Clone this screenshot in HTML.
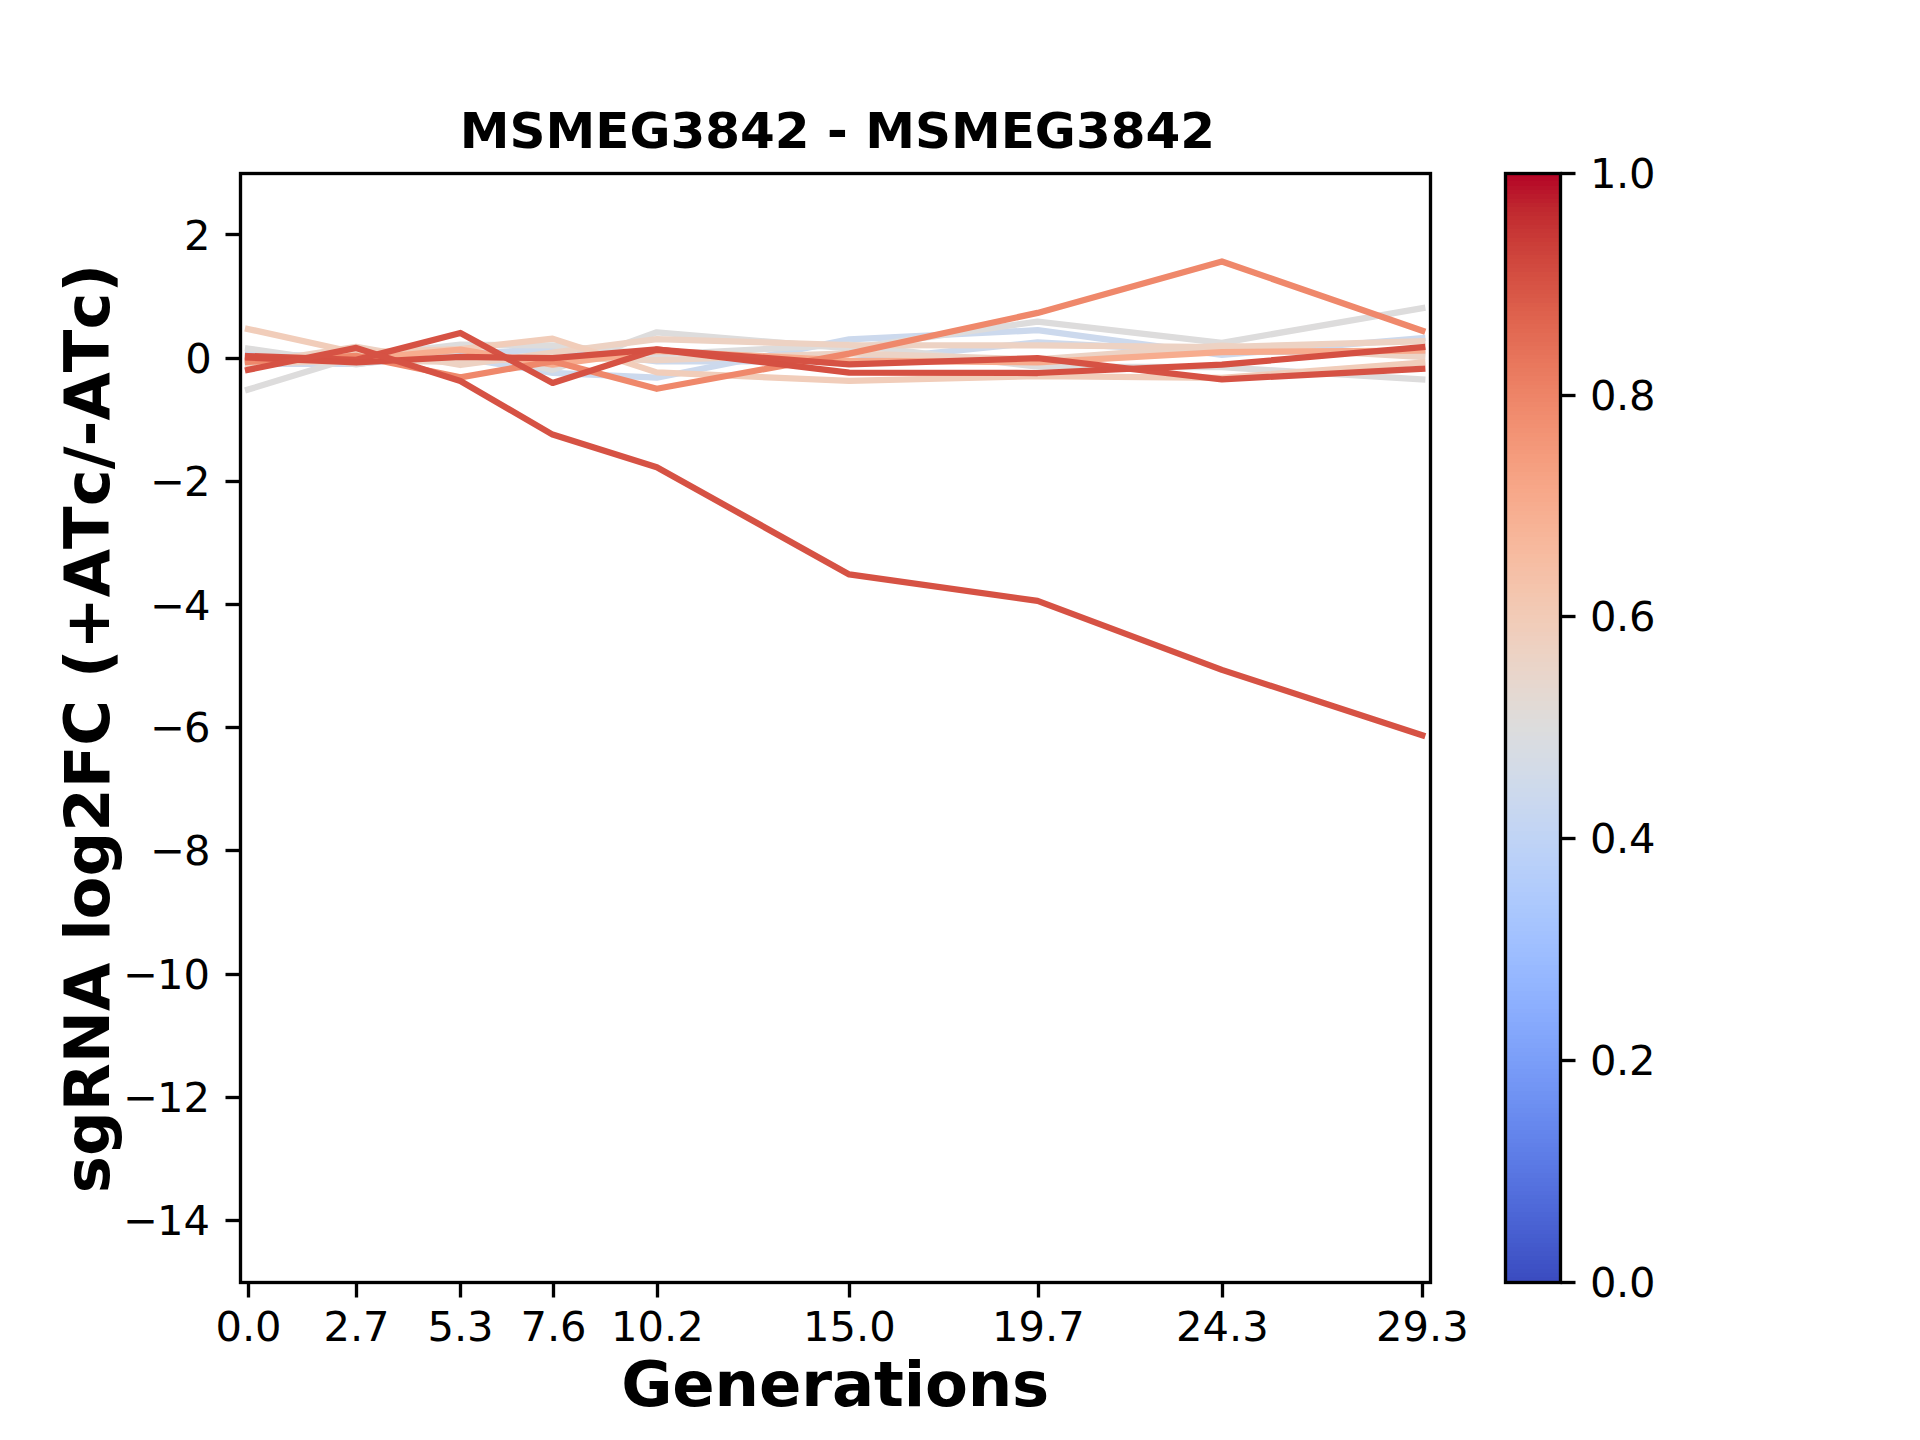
<!DOCTYPE html>
<html lang="en"><head><meta charset="utf-8"><title>MSMEG3842 - MSMEG3842</title>
<style>html,body{margin:0;padding:0;background:#fff}svg{display:block}text{font-family:"DejaVu Sans","Liberation Sans",sans-serif;fill:#000;font-kerning:none}.b{font-weight:bold}</style></head><body>
<svg width="1920" height="1440" viewBox="0 0 1920 1440">
<rect width="1920" height="1440" fill="#fff"/>
<defs><linearGradient id="cw" x1="0" y1="0" x2="0" y2="1"><stop offset="0.00000" stop-color="#b40426"/><stop offset="0.00391" stop-color="#b40426"/><stop offset="0.00391" stop-color="#b50927"/><stop offset="0.00781" stop-color="#b50927"/><stop offset="0.00781" stop-color="#b70d28"/><stop offset="0.01172" stop-color="#b70d28"/><stop offset="0.01172" stop-color="#b8122a"/><stop offset="0.01562" stop-color="#b8122a"/><stop offset="0.01562" stop-color="#ba162b"/><stop offset="0.01953" stop-color="#ba162b"/><stop offset="0.01953" stop-color="#bb1b2c"/><stop offset="0.02344" stop-color="#bb1b2c"/><stop offset="0.02344" stop-color="#bd1f2d"/><stop offset="0.02734" stop-color="#bd1f2d"/><stop offset="0.02734" stop-color="#be242e"/><stop offset="0.03125" stop-color="#be242e"/><stop offset="0.03125" stop-color="#c0282f"/><stop offset="0.03516" stop-color="#c0282f"/><stop offset="0.03516" stop-color="#c12b30"/><stop offset="0.03906" stop-color="#c12b30"/><stop offset="0.03906" stop-color="#c32e31"/><stop offset="0.04297" stop-color="#c32e31"/><stop offset="0.04297" stop-color="#c43032"/><stop offset="0.04688" stop-color="#c43032"/><stop offset="0.04688" stop-color="#c53334"/><stop offset="0.05078" stop-color="#c53334"/><stop offset="0.05078" stop-color="#c73635"/><stop offset="0.05469" stop-color="#c73635"/><stop offset="0.05469" stop-color="#c83836"/><stop offset="0.05859" stop-color="#c83836"/><stop offset="0.05859" stop-color="#ca3b37"/><stop offset="0.06250" stop-color="#ca3b37"/><stop offset="0.06250" stop-color="#cb3e38"/><stop offset="0.06641" stop-color="#cb3e38"/><stop offset="0.06641" stop-color="#cc403a"/><stop offset="0.07031" stop-color="#cc403a"/><stop offset="0.07031" stop-color="#cd423b"/><stop offset="0.07422" stop-color="#cd423b"/><stop offset="0.07422" stop-color="#cf453c"/><stop offset="0.07812" stop-color="#cf453c"/><stop offset="0.07812" stop-color="#d0473d"/><stop offset="0.08203" stop-color="#d0473d"/><stop offset="0.08203" stop-color="#d1493f"/><stop offset="0.08594" stop-color="#d1493f"/><stop offset="0.08594" stop-color="#d24b40"/><stop offset="0.08984" stop-color="#d24b40"/><stop offset="0.08984" stop-color="#d44e41"/><stop offset="0.09375" stop-color="#d44e41"/><stop offset="0.09375" stop-color="#d55042"/><stop offset="0.09766" stop-color="#d55042"/><stop offset="0.09766" stop-color="#d65244"/><stop offset="0.10156" stop-color="#d65244"/><stop offset="0.10156" stop-color="#d75445"/><stop offset="0.10547" stop-color="#d75445"/><stop offset="0.10547" stop-color="#d85646"/><stop offset="0.10938" stop-color="#d85646"/><stop offset="0.10938" stop-color="#d95847"/><stop offset="0.11328" stop-color="#d95847"/><stop offset="0.11328" stop-color="#da5a49"/><stop offset="0.11719" stop-color="#da5a49"/><stop offset="0.11719" stop-color="#dc5d4a"/><stop offset="0.12109" stop-color="#dc5d4a"/><stop offset="0.12109" stop-color="#dd5f4b"/><stop offset="0.12500" stop-color="#dd5f4b"/><stop offset="0.12500" stop-color="#de614d"/><stop offset="0.12891" stop-color="#de614d"/><stop offset="0.12891" stop-color="#df634e"/><stop offset="0.13281" stop-color="#df634e"/><stop offset="0.13281" stop-color="#e0654f"/><stop offset="0.13672" stop-color="#e0654f"/><stop offset="0.13672" stop-color="#e16751"/><stop offset="0.14062" stop-color="#e16751"/><stop offset="0.14062" stop-color="#e26952"/><stop offset="0.14453" stop-color="#e26952"/><stop offset="0.14453" stop-color="#e36b54"/><stop offset="0.14844" stop-color="#e36b54"/><stop offset="0.14844" stop-color="#e36c55"/><stop offset="0.15234" stop-color="#e36c55"/><stop offset="0.15234" stop-color="#e46e56"/><stop offset="0.15625" stop-color="#e46e56"/><stop offset="0.15625" stop-color="#e57058"/><stop offset="0.16016" stop-color="#e57058"/><stop offset="0.16016" stop-color="#e67259"/><stop offset="0.16406" stop-color="#e67259"/><stop offset="0.16406" stop-color="#e7745b"/><stop offset="0.16797" stop-color="#e7745b"/><stop offset="0.16797" stop-color="#e8765c"/><stop offset="0.17188" stop-color="#e8765c"/><stop offset="0.17188" stop-color="#e9785d"/><stop offset="0.17578" stop-color="#e9785d"/><stop offset="0.17578" stop-color="#e97a5f"/><stop offset="0.17969" stop-color="#e97a5f"/><stop offset="0.17969" stop-color="#ea7b60"/><stop offset="0.18359" stop-color="#ea7b60"/><stop offset="0.18359" stop-color="#eb7d62"/><stop offset="0.18750" stop-color="#eb7d62"/><stop offset="0.18750" stop-color="#ec7f63"/><stop offset="0.19141" stop-color="#ec7f63"/><stop offset="0.19141" stop-color="#ec8165"/><stop offset="0.19531" stop-color="#ec8165"/><stop offset="0.19531" stop-color="#ed8366"/><stop offset="0.19922" stop-color="#ed8366"/><stop offset="0.19922" stop-color="#ee8468"/><stop offset="0.20312" stop-color="#ee8468"/><stop offset="0.20312" stop-color="#ee8669"/><stop offset="0.20703" stop-color="#ee8669"/><stop offset="0.20703" stop-color="#ef886b"/><stop offset="0.21094" stop-color="#ef886b"/><stop offset="0.21094" stop-color="#f08a6c"/><stop offset="0.21484" stop-color="#f08a6c"/><stop offset="0.21484" stop-color="#f08b6e"/><stop offset="0.21875" stop-color="#f08b6e"/><stop offset="0.21875" stop-color="#f18d6f"/><stop offset="0.22266" stop-color="#f18d6f"/><stop offset="0.22266" stop-color="#f18f71"/><stop offset="0.22656" stop-color="#f18f71"/><stop offset="0.22656" stop-color="#f29072"/><stop offset="0.23047" stop-color="#f29072"/><stop offset="0.23047" stop-color="#f29274"/><stop offset="0.23438" stop-color="#f29274"/><stop offset="0.23438" stop-color="#f39475"/><stop offset="0.23828" stop-color="#f39475"/><stop offset="0.23828" stop-color="#f39577"/><stop offset="0.24219" stop-color="#f39577"/><stop offset="0.24219" stop-color="#f39778"/><stop offset="0.24609" stop-color="#f39778"/><stop offset="0.24609" stop-color="#f4987a"/><stop offset="0.25000" stop-color="#f4987a"/><stop offset="0.25000" stop-color="#f49a7b"/><stop offset="0.25391" stop-color="#f49a7b"/><stop offset="0.25391" stop-color="#f59c7d"/><stop offset="0.25781" stop-color="#f59c7d"/><stop offset="0.25781" stop-color="#f59d7e"/><stop offset="0.26172" stop-color="#f59d7e"/><stop offset="0.26172" stop-color="#f59f80"/><stop offset="0.26562" stop-color="#f59f80"/><stop offset="0.26562" stop-color="#f5a081"/><stop offset="0.26953" stop-color="#f5a081"/><stop offset="0.26953" stop-color="#f6a283"/><stop offset="0.27344" stop-color="#f6a283"/><stop offset="0.27344" stop-color="#f6a385"/><stop offset="0.27734" stop-color="#f6a385"/><stop offset="0.27734" stop-color="#f6a586"/><stop offset="0.28125" stop-color="#f6a586"/><stop offset="0.28125" stop-color="#f7a688"/><stop offset="0.28516" stop-color="#f7a688"/><stop offset="0.28516" stop-color="#f7a889"/><stop offset="0.28906" stop-color="#f7a889"/><stop offset="0.28906" stop-color="#f7a98b"/><stop offset="0.29297" stop-color="#f7a98b"/><stop offset="0.29297" stop-color="#f7aa8c"/><stop offset="0.29688" stop-color="#f7aa8c"/><stop offset="0.29688" stop-color="#f7ac8e"/><stop offset="0.30078" stop-color="#f7ac8e"/><stop offset="0.30078" stop-color="#f7ad90"/><stop offset="0.30469" stop-color="#f7ad90"/><stop offset="0.30469" stop-color="#f7af91"/><stop offset="0.30859" stop-color="#f7af91"/><stop offset="0.30859" stop-color="#f7b093"/><stop offset="0.31250" stop-color="#f7b093"/><stop offset="0.31250" stop-color="#f7b194"/><stop offset="0.31641" stop-color="#f7b194"/><stop offset="0.31641" stop-color="#f7b396"/><stop offset="0.32031" stop-color="#f7b396"/><stop offset="0.32031" stop-color="#f7b497"/><stop offset="0.32422" stop-color="#f7b497"/><stop offset="0.32422" stop-color="#f7b599"/><stop offset="0.32812" stop-color="#f7b599"/><stop offset="0.32812" stop-color="#f7b79b"/><stop offset="0.33203" stop-color="#f7b79b"/><stop offset="0.33203" stop-color="#f7b89c"/><stop offset="0.33594" stop-color="#f7b89c"/><stop offset="0.33594" stop-color="#f7b99e"/><stop offset="0.33984" stop-color="#f7b99e"/><stop offset="0.33984" stop-color="#f7ba9f"/><stop offset="0.34375" stop-color="#f7ba9f"/><stop offset="0.34375" stop-color="#f7bca1"/><stop offset="0.34766" stop-color="#f7bca1"/><stop offset="0.34766" stop-color="#f6bda2"/><stop offset="0.35156" stop-color="#f6bda2"/><stop offset="0.35156" stop-color="#f6bea4"/><stop offset="0.35547" stop-color="#f6bea4"/><stop offset="0.35547" stop-color="#f6bfa6"/><stop offset="0.35938" stop-color="#f6bfa6"/><stop offset="0.35938" stop-color="#f5c0a7"/><stop offset="0.36328" stop-color="#f5c0a7"/><stop offset="0.36328" stop-color="#f5c1a9"/><stop offset="0.36719" stop-color="#f5c1a9"/><stop offset="0.36719" stop-color="#f5c2aa"/><stop offset="0.37109" stop-color="#f5c2aa"/><stop offset="0.37109" stop-color="#f5c4ac"/><stop offset="0.37500" stop-color="#f5c4ac"/><stop offset="0.37500" stop-color="#f4c5ad"/><stop offset="0.37891" stop-color="#f4c5ad"/><stop offset="0.37891" stop-color="#f4c6af"/><stop offset="0.38281" stop-color="#f4c6af"/><stop offset="0.38281" stop-color="#f3c7b1"/><stop offset="0.38672" stop-color="#f3c7b1"/><stop offset="0.38672" stop-color="#f3c8b2"/><stop offset="0.39062" stop-color="#f3c8b2"/><stop offset="0.39062" stop-color="#f2c9b4"/><stop offset="0.39453" stop-color="#f2c9b4"/><stop offset="0.39453" stop-color="#f2cab5"/><stop offset="0.39844" stop-color="#f2cab5"/><stop offset="0.39844" stop-color="#f2cbb7"/><stop offset="0.40234" stop-color="#f2cbb7"/><stop offset="0.40234" stop-color="#f1ccb8"/><stop offset="0.40625" stop-color="#f1ccb8"/><stop offset="0.40625" stop-color="#f1cdba"/><stop offset="0.41016" stop-color="#f1cdba"/><stop offset="0.41016" stop-color="#f0cdbb"/><stop offset="0.41406" stop-color="#f0cdbb"/><stop offset="0.41406" stop-color="#efcebd"/><stop offset="0.41797" stop-color="#efcebd"/><stop offset="0.41797" stop-color="#efcfbf"/><stop offset="0.42188" stop-color="#efcfbf"/><stop offset="0.42188" stop-color="#eed0c0"/><stop offset="0.42578" stop-color="#eed0c0"/><stop offset="0.42578" stop-color="#edd1c2"/><stop offset="0.42969" stop-color="#edd1c2"/><stop offset="0.42969" stop-color="#edd2c3"/><stop offset="0.43359" stop-color="#edd2c3"/><stop offset="0.43359" stop-color="#ecd3c5"/><stop offset="0.43750" stop-color="#ecd3c5"/><stop offset="0.43750" stop-color="#ebd3c6"/><stop offset="0.44141" stop-color="#ebd3c6"/><stop offset="0.44141" stop-color="#ead4c8"/><stop offset="0.44531" stop-color="#ead4c8"/><stop offset="0.44531" stop-color="#ead5c9"/><stop offset="0.44922" stop-color="#ead5c9"/><stop offset="0.44922" stop-color="#e9d5cb"/><stop offset="0.45312" stop-color="#e9d5cb"/><stop offset="0.45312" stop-color="#e8d6cc"/><stop offset="0.45703" stop-color="#e8d6cc"/><stop offset="0.45703" stop-color="#e7d7ce"/><stop offset="0.46094" stop-color="#e7d7ce"/><stop offset="0.46094" stop-color="#e6d7cf"/><stop offset="0.46484" stop-color="#e6d7cf"/><stop offset="0.46484" stop-color="#e5d8d1"/><stop offset="0.46875" stop-color="#e5d8d1"/><stop offset="0.46875" stop-color="#e4d9d2"/><stop offset="0.47266" stop-color="#e4d9d2"/><stop offset="0.47266" stop-color="#e3d9d3"/><stop offset="0.47656" stop-color="#e3d9d3"/><stop offset="0.47656" stop-color="#e2dad5"/><stop offset="0.48047" stop-color="#e2dad5"/><stop offset="0.48047" stop-color="#e1dad6"/><stop offset="0.48438" stop-color="#e1dad6"/><stop offset="0.48438" stop-color="#e0dbd8"/><stop offset="0.48828" stop-color="#e0dbd8"/><stop offset="0.48828" stop-color="#dfdbd9"/><stop offset="0.49219" stop-color="#dfdbd9"/><stop offset="0.49219" stop-color="#dedcdb"/><stop offset="0.49609" stop-color="#dedcdb"/><stop offset="0.49609" stop-color="#dddcdc"/><stop offset="0.50000" stop-color="#dddcdc"/><stop offset="0.50000" stop-color="#dcdddd"/><stop offset="0.50391" stop-color="#dcdddd"/><stop offset="0.50391" stop-color="#dbdcde"/><stop offset="0.50781" stop-color="#dbdcde"/><stop offset="0.50781" stop-color="#dadce0"/><stop offset="0.51172" stop-color="#dadce0"/><stop offset="0.51172" stop-color="#d9dce1"/><stop offset="0.51562" stop-color="#d9dce1"/><stop offset="0.51562" stop-color="#d8dce2"/><stop offset="0.51953" stop-color="#d8dce2"/><stop offset="0.51953" stop-color="#d7dce3"/><stop offset="0.52344" stop-color="#d7dce3"/><stop offset="0.52344" stop-color="#d6dce4"/><stop offset="0.52734" stop-color="#d6dce4"/><stop offset="0.52734" stop-color="#d5dbe5"/><stop offset="0.53125" stop-color="#d5dbe5"/><stop offset="0.53125" stop-color="#d4dbe6"/><stop offset="0.53516" stop-color="#d4dbe6"/><stop offset="0.53516" stop-color="#d3dbe7"/><stop offset="0.53906" stop-color="#d3dbe7"/><stop offset="0.53906" stop-color="#d2dbe8"/><stop offset="0.54297" stop-color="#d2dbe8"/><stop offset="0.54297" stop-color="#d1dae9"/><stop offset="0.54688" stop-color="#d1dae9"/><stop offset="0.54688" stop-color="#cfdaea"/><stop offset="0.55078" stop-color="#cfdaea"/><stop offset="0.55078" stop-color="#cedaeb"/><stop offset="0.55469" stop-color="#cedaeb"/><stop offset="0.55469" stop-color="#cdd9ec"/><stop offset="0.55859" stop-color="#cdd9ec"/><stop offset="0.55859" stop-color="#ccd9ed"/><stop offset="0.56250" stop-color="#ccd9ed"/><stop offset="0.56250" stop-color="#cbd8ee"/><stop offset="0.56641" stop-color="#cbd8ee"/><stop offset="0.56641" stop-color="#cad8ef"/><stop offset="0.57031" stop-color="#cad8ef"/><stop offset="0.57031" stop-color="#c9d7f0"/><stop offset="0.57422" stop-color="#c9d7f0"/><stop offset="0.57422" stop-color="#c7d7f0"/><stop offset="0.57812" stop-color="#c7d7f0"/><stop offset="0.57812" stop-color="#c6d6f1"/><stop offset="0.58203" stop-color="#c6d6f1"/><stop offset="0.58203" stop-color="#c5d6f2"/><stop offset="0.58594" stop-color="#c5d6f2"/><stop offset="0.58594" stop-color="#c4d5f3"/><stop offset="0.58984" stop-color="#c4d5f3"/><stop offset="0.58984" stop-color="#c3d5f4"/><stop offset="0.59375" stop-color="#c3d5f4"/><stop offset="0.59375" stop-color="#c1d4f4"/><stop offset="0.59766" stop-color="#c1d4f4"/><stop offset="0.59766" stop-color="#c0d4f5"/><stop offset="0.60156" stop-color="#c0d4f5"/><stop offset="0.60156" stop-color="#bfd3f6"/><stop offset="0.60547" stop-color="#bfd3f6"/><stop offset="0.60547" stop-color="#bed2f6"/><stop offset="0.60938" stop-color="#bed2f6"/><stop offset="0.60938" stop-color="#bcd2f7"/><stop offset="0.61328" stop-color="#bcd2f7"/><stop offset="0.61328" stop-color="#bbd1f8"/><stop offset="0.61719" stop-color="#bbd1f8"/><stop offset="0.61719" stop-color="#bad0f8"/><stop offset="0.62109" stop-color="#bad0f8"/><stop offset="0.62109" stop-color="#b9d0f9"/><stop offset="0.62500" stop-color="#b9d0f9"/><stop offset="0.62500" stop-color="#b7cff9"/><stop offset="0.62891" stop-color="#b7cff9"/><stop offset="0.62891" stop-color="#b6cefa"/><stop offset="0.63281" stop-color="#b6cefa"/><stop offset="0.63281" stop-color="#b5cdfa"/><stop offset="0.63672" stop-color="#b5cdfa"/><stop offset="0.63672" stop-color="#b3cdfb"/><stop offset="0.64062" stop-color="#b3cdfb"/><stop offset="0.64062" stop-color="#b2ccfb"/><stop offset="0.64453" stop-color="#b2ccfb"/><stop offset="0.64453" stop-color="#b1cbfc"/><stop offset="0.64844" stop-color="#b1cbfc"/><stop offset="0.64844" stop-color="#afcafc"/><stop offset="0.65234" stop-color="#afcafc"/><stop offset="0.65234" stop-color="#aec9fc"/><stop offset="0.65625" stop-color="#aec9fc"/><stop offset="0.65625" stop-color="#adc9fd"/><stop offset="0.66016" stop-color="#adc9fd"/><stop offset="0.66016" stop-color="#abc8fd"/><stop offset="0.66406" stop-color="#abc8fd"/><stop offset="0.66406" stop-color="#aac7fd"/><stop offset="0.66797" stop-color="#aac7fd"/><stop offset="0.66797" stop-color="#a9c6fd"/><stop offset="0.67188" stop-color="#a9c6fd"/><stop offset="0.67188" stop-color="#a7c5fe"/><stop offset="0.67578" stop-color="#a7c5fe"/><stop offset="0.67578" stop-color="#a6c4fe"/><stop offset="0.67969" stop-color="#a6c4fe"/><stop offset="0.67969" stop-color="#a5c3fe"/><stop offset="0.68359" stop-color="#a5c3fe"/><stop offset="0.68359" stop-color="#a3c2fe"/><stop offset="0.68750" stop-color="#a3c2fe"/><stop offset="0.68750" stop-color="#a2c1ff"/><stop offset="0.69141" stop-color="#a2c1ff"/><stop offset="0.69141" stop-color="#a1c0ff"/><stop offset="0.69531" stop-color="#a1c0ff"/><stop offset="0.69531" stop-color="#9fbfff"/><stop offset="0.69922" stop-color="#9fbfff"/><stop offset="0.69922" stop-color="#9ebeff"/><stop offset="0.70312" stop-color="#9ebeff"/><stop offset="0.70312" stop-color="#9dbdff"/><stop offset="0.70703" stop-color="#9dbdff"/><stop offset="0.70703" stop-color="#9bbcff"/><stop offset="0.71094" stop-color="#9bbcff"/><stop offset="0.71094" stop-color="#9abbff"/><stop offset="0.71484" stop-color="#9abbff"/><stop offset="0.71484" stop-color="#98b9ff"/><stop offset="0.71875" stop-color="#98b9ff"/><stop offset="0.71875" stop-color="#97b8ff"/><stop offset="0.72266" stop-color="#97b8ff"/><stop offset="0.72266" stop-color="#96b7ff"/><stop offset="0.72656" stop-color="#96b7ff"/><stop offset="0.72656" stop-color="#94b6ff"/><stop offset="0.73047" stop-color="#94b6ff"/><stop offset="0.73047" stop-color="#93b5fe"/><stop offset="0.73438" stop-color="#93b5fe"/><stop offset="0.73438" stop-color="#92b4fe"/><stop offset="0.73828" stop-color="#92b4fe"/><stop offset="0.73828" stop-color="#90b2fe"/><stop offset="0.74219" stop-color="#90b2fe"/><stop offset="0.74219" stop-color="#8fb1fe"/><stop offset="0.74609" stop-color="#8fb1fe"/><stop offset="0.74609" stop-color="#8db0fe"/><stop offset="0.75000" stop-color="#8db0fe"/><stop offset="0.75000" stop-color="#8caffe"/><stop offset="0.75391" stop-color="#8caffe"/><stop offset="0.75391" stop-color="#8badfd"/><stop offset="0.75781" stop-color="#8badfd"/><stop offset="0.75781" stop-color="#89acfd"/><stop offset="0.76172" stop-color="#89acfd"/><stop offset="0.76172" stop-color="#88abfd"/><stop offset="0.76562" stop-color="#88abfd"/><stop offset="0.76562" stop-color="#86a9fc"/><stop offset="0.76953" stop-color="#86a9fc"/><stop offset="0.76953" stop-color="#85a8fc"/><stop offset="0.77344" stop-color="#85a8fc"/><stop offset="0.77344" stop-color="#84a7fc"/><stop offset="0.77734" stop-color="#84a7fc"/><stop offset="0.77734" stop-color="#82a6fb"/><stop offset="0.78125" stop-color="#82a6fb"/><stop offset="0.78125" stop-color="#81a4fb"/><stop offset="0.78516" stop-color="#81a4fb"/><stop offset="0.78516" stop-color="#80a3fa"/><stop offset="0.78906" stop-color="#80a3fa"/><stop offset="0.78906" stop-color="#7ea1fa"/><stop offset="0.79297" stop-color="#7ea1fa"/><stop offset="0.79297" stop-color="#7da0f9"/><stop offset="0.79688" stop-color="#7da0f9"/><stop offset="0.79688" stop-color="#7b9ff9"/><stop offset="0.80078" stop-color="#7b9ff9"/><stop offset="0.80078" stop-color="#7a9df8"/><stop offset="0.80469" stop-color="#7a9df8"/><stop offset="0.80469" stop-color="#799cf8"/><stop offset="0.80859" stop-color="#799cf8"/><stop offset="0.80859" stop-color="#779af7"/><stop offset="0.81250" stop-color="#779af7"/><stop offset="0.81250" stop-color="#7699f6"/><stop offset="0.81641" stop-color="#7699f6"/><stop offset="0.81641" stop-color="#7597f6"/><stop offset="0.82031" stop-color="#7597f6"/><stop offset="0.82031" stop-color="#7396f5"/><stop offset="0.82422" stop-color="#7396f5"/><stop offset="0.82422" stop-color="#7295f4"/><stop offset="0.82812" stop-color="#7295f4"/><stop offset="0.82812" stop-color="#7093f3"/><stop offset="0.83203" stop-color="#7093f3"/><stop offset="0.83203" stop-color="#6f92f3"/><stop offset="0.83594" stop-color="#6f92f3"/><stop offset="0.83594" stop-color="#6e90f2"/><stop offset="0.83984" stop-color="#6e90f2"/><stop offset="0.83984" stop-color="#6c8ff1"/><stop offset="0.84375" stop-color="#6c8ff1"/><stop offset="0.84375" stop-color="#6b8df0"/><stop offset="0.84766" stop-color="#6b8df0"/><stop offset="0.84766" stop-color="#6a8bef"/><stop offset="0.85156" stop-color="#6a8bef"/><stop offset="0.85156" stop-color="#688aef"/><stop offset="0.85547" stop-color="#688aef"/><stop offset="0.85547" stop-color="#6788ee"/><stop offset="0.85938" stop-color="#6788ee"/><stop offset="0.85938" stop-color="#6687ed"/><stop offset="0.86328" stop-color="#6687ed"/><stop offset="0.86328" stop-color="#6485ec"/><stop offset="0.86719" stop-color="#6485ec"/><stop offset="0.86719" stop-color="#6384eb"/><stop offset="0.87109" stop-color="#6384eb"/><stop offset="0.87109" stop-color="#6282ea"/><stop offset="0.87500" stop-color="#6282ea"/><stop offset="0.87500" stop-color="#6180e9"/><stop offset="0.87891" stop-color="#6180e9"/><stop offset="0.87891" stop-color="#5f7fe8"/><stop offset="0.88281" stop-color="#5f7fe8"/><stop offset="0.88281" stop-color="#5e7de7"/><stop offset="0.88672" stop-color="#5e7de7"/><stop offset="0.88672" stop-color="#5d7ce6"/><stop offset="0.89062" stop-color="#5d7ce6"/><stop offset="0.89062" stop-color="#5b7ae5"/><stop offset="0.89453" stop-color="#5b7ae5"/><stop offset="0.89453" stop-color="#5a78e4"/><stop offset="0.89844" stop-color="#5a78e4"/><stop offset="0.89844" stop-color="#5977e3"/><stop offset="0.90234" stop-color="#5977e3"/><stop offset="0.90234" stop-color="#5875e1"/><stop offset="0.90625" stop-color="#5875e1"/><stop offset="0.90625" stop-color="#5673e0"/><stop offset="0.91016" stop-color="#5673e0"/><stop offset="0.91016" stop-color="#5572df"/><stop offset="0.91406" stop-color="#5572df"/><stop offset="0.91406" stop-color="#5470de"/><stop offset="0.91797" stop-color="#5470de"/><stop offset="0.91797" stop-color="#536edd"/><stop offset="0.92188" stop-color="#536edd"/><stop offset="0.92188" stop-color="#516ddb"/><stop offset="0.92578" stop-color="#516ddb"/><stop offset="0.92578" stop-color="#506bda"/><stop offset="0.92969" stop-color="#506bda"/><stop offset="0.92969" stop-color="#4f69d9"/><stop offset="0.93359" stop-color="#4f69d9"/><stop offset="0.93359" stop-color="#4e68d8"/><stop offset="0.93750" stop-color="#4e68d8"/><stop offset="0.93750" stop-color="#4c66d6"/><stop offset="0.94141" stop-color="#4c66d6"/><stop offset="0.94141" stop-color="#4b64d5"/><stop offset="0.94531" stop-color="#4b64d5"/><stop offset="0.94531" stop-color="#4a63d3"/><stop offset="0.94922" stop-color="#4a63d3"/><stop offset="0.94922" stop-color="#4961d2"/><stop offset="0.95312" stop-color="#4961d2"/><stop offset="0.95312" stop-color="#485fd1"/><stop offset="0.95703" stop-color="#485fd1"/><stop offset="0.95703" stop-color="#465ecf"/><stop offset="0.96094" stop-color="#465ecf"/><stop offset="0.96094" stop-color="#455cce"/><stop offset="0.96484" stop-color="#455cce"/><stop offset="0.96484" stop-color="#445acc"/><stop offset="0.96875" stop-color="#445acc"/><stop offset="0.96875" stop-color="#4358cb"/><stop offset="0.97266" stop-color="#4358cb"/><stop offset="0.97266" stop-color="#4257c9"/><stop offset="0.97656" stop-color="#4257c9"/><stop offset="0.97656" stop-color="#4055c8"/><stop offset="0.98047" stop-color="#4055c8"/><stop offset="0.98047" stop-color="#3f53c6"/><stop offset="0.98438" stop-color="#3f53c6"/><stop offset="0.98438" stop-color="#3e51c5"/><stop offset="0.98828" stop-color="#3e51c5"/><stop offset="0.98828" stop-color="#3d50c3"/><stop offset="0.99219" stop-color="#3d50c3"/><stop offset="0.99219" stop-color="#3c4ec2"/><stop offset="0.99609" stop-color="#3c4ec2"/><stop offset="0.99609" stop-color="#3b4cc0"/><stop offset="1.00000" stop-color="#3b4cc0"/></linearGradient><clipPath id="ax"><rect x="240.0" y="172.8" width="1190.4" height="1108.8"/></clipPath></defs>
<g clip-path="url(#ax)" fill="none" stroke-width="6.25" stroke-linecap="square" stroke-linejoin="round">
<polyline stroke="#ccd9ed" points="248.0,353.3 356.2,357.6 460.4,357.6 552.6,372.8 656.8,377.7 849.2,339.4 1037.6,330.2 1221.9,354.8 1422.3,338.2"/>
<polyline stroke="#cdd9ec" points="248.0,363.8 356.2,363.8 460.4,353.9 552.6,349.0 656.8,361.3 849.2,361.3 1037.6,342.4 1221.9,352.1 1422.3,350.8"/>
<polyline stroke="#dddcdc" points="248.0,348.5 356.2,364.4 460.4,349.6 552.6,369.9 656.8,332.3 849.2,348.4 1037.6,321.6 1221.9,342.8 1422.3,308.1"/>
<polyline stroke="#dddcdc" points="248.0,389.6 356.2,356.4 460.4,344.7 552.6,345.4 656.8,354.5 849.2,344.7 1037.6,366.7 1221.9,367.2 1422.3,379.5"/>
<polyline stroke="#ecd3c5" points="248.0,363.8 356.2,360.4 460.4,361.9 552.6,357.6 656.8,360.2 849.2,353.3 1037.6,359.4 1221.9,345.6 1422.3,356.9"/>
<polyline stroke="#edd2c3" points="248.0,363.8 356.2,346.8 460.4,365.0 552.6,352.5 656.8,339.2 849.2,345.0 1037.6,345.3 1221.9,347.1 1422.3,341.2"/>
<polyline stroke="#f1cdba" points="248.0,329.0 356.2,352.7 460.4,349.0 552.6,338.6 656.8,372.4 849.2,380.9 1037.6,376.1 1221.9,377.9 1422.3,362.6"/>
<polyline stroke="#f7ac8e" points="248.0,360.7 356.2,359.4 460.4,349.6 552.6,364.7 656.8,350.8 849.2,360.7 1037.6,362.3 1221.9,352.1 1422.3,350.6"/>
<polyline stroke="#ef886b" points="248.0,361.9 356.2,355.8 460.4,377.3 552.6,361.3 656.8,388.8 849.2,353.6 1037.6,312.9 1221.9,261.5 1422.3,330.7"/>
<polyline stroke="#d65244" points="248.0,356.0 356.2,359.9 460.4,333.0 552.6,382.9 656.8,349.6 849.2,364.4 1037.6,358.2 1221.9,379.3 1422.3,368.9"/>
<polyline stroke="#d55042" points="248.0,357.6 356.2,362.5 460.4,356.9 552.6,358.2 656.8,349.3 849.2,372.6 1037.6,373.0 1221.9,364.7 1422.3,347.1"/>
<polyline stroke="#d65244" points="248.0,369.9 356.2,347.9 460.4,381.0 552.6,434.6 656.8,467.2 849.2,574.4 1037.6,600.9 1221.9,669.9 1422.3,735.2"/>
</g>
<g stroke="#000" stroke-width="3.33" fill="none">
<line x1="248.5" y1="1282.5" x2="248.5" y2="1297.5"/>
<line x1="356.5" y1="1282.5" x2="356.5" y2="1297.5"/>
<line x1="460.5" y1="1282.5" x2="460.5" y2="1297.5"/>
<line x1="553.5" y1="1282.5" x2="553.5" y2="1297.5"/>
<line x1="657.5" y1="1282.5" x2="657.5" y2="1297.5"/>
<line x1="849.5" y1="1282.5" x2="849.5" y2="1297.5"/>
<line x1="1038.5" y1="1282.5" x2="1038.5" y2="1297.5"/>
<line x1="1222.5" y1="1282.5" x2="1222.5" y2="1297.5"/>
<line x1="1422.5" y1="1282.5" x2="1422.5" y2="1297.5"/>
<line x1="225.5" y1="234.5" x2="240.5" y2="234.5"/>
<line x1="225.5" y1="358.5" x2="240.5" y2="358.5"/>
<line x1="225.5" y1="481.5" x2="240.5" y2="481.5"/>
<line x1="225.5" y1="604.5" x2="240.5" y2="604.5"/>
<line x1="225.5" y1="727.5" x2="240.5" y2="727.5"/>
<line x1="225.5" y1="850.5" x2="240.5" y2="850.5"/>
<line x1="225.5" y1="974.5" x2="240.5" y2="974.5"/>
<line x1="225.5" y1="1097.5" x2="240.5" y2="1097.5"/>
<line x1="225.5" y1="1220.5" x2="240.5" y2="1220.5"/>
<line x1="1560.5" y1="1282.5" x2="1575.5" y2="1282.5"/>
<line x1="1560.5" y1="1060.5" x2="1575.5" y2="1060.5"/>
<line x1="1560.5" y1="838.5" x2="1575.5" y2="838.5"/>
<line x1="1560.5" y1="616.5" x2="1575.5" y2="616.5"/>
<line x1="1560.5" y1="395.5" x2="1575.5" y2="395.5"/>
<line x1="1560.5" y1="173.5" x2="1575.5" y2="173.5"/>
</g>
<rect x="1504.8" y="172.8" width="55.44" height="1108.8" fill="url(#cw)"/>
<rect x="1505.50" y="173.50" width="55.00" height="1109.00" fill="none" stroke="#000" stroke-width="3.33"/>
<rect x="240.50" y="173.50" width="1190.00" height="1109.00" fill="none" stroke="#000" stroke-width="3.33"/>
<g font-size="41.667">
<text x="248.5" y="1341.3" text-anchor="middle">0.0</text>
<text x="356.5" y="1341.3" text-anchor="middle">2.7</text>
<text x="460.5" y="1341.3" text-anchor="middle">5.3</text>
<text x="553.5" y="1341.3" text-anchor="middle">7.6</text>
<text x="657.5" y="1341.3" text-anchor="middle">10.2</text>
<text x="849.5" y="1341.3" text-anchor="middle">15.0</text>
<text x="1038.5" y="1341.3" text-anchor="middle">19.7</text>
<text x="1222.5" y="1341.3" text-anchor="middle">24.3</text>
<text x="1422.5" y="1341.3" text-anchor="middle">29.3</text>
<text x="210.5" y="249.9" text-anchor="end">2</text>
<text x="211.7" y="372.8" text-anchor="end">0</text>
<text x="210.5" y="495.6" text-anchor="end">−<tspan dx="-1.2">2</tspan></text>
<text x="210.5" y="619.8" text-anchor="end">−<tspan dx="-1.2">4</tspan></text>
<text x="210.5" y="742.2" text-anchor="end">−<tspan dx="-1.2">6</tspan></text>
<text x="210.5" y="865.0" text-anchor="end">−<tspan dx="-1.2">8</tspan></text>
<text x="210.0" y="988.9" text-anchor="end">−<tspan dx="-1.2">10</tspan></text>
<text x="210.0" y="1112.1" text-anchor="end">−<tspan dx="-1.2">12</tspan></text>
<text x="210.0" y="1235.1" text-anchor="end">−<tspan dx="-1.2">14</tspan></text>
<text x="1589.9" y="1296.9" letter-spacing="-0.3">0.0</text>
<text x="1589.9" y="1074.9" letter-spacing="-0.3">0.2</text>
<text x="1589.9" y="852.9" letter-spacing="-0.3">0.4</text>
<text x="1589.9" y="630.9" letter-spacing="-0.3">0.6</text>
<text x="1589.9" y="409.9" letter-spacing="-0.3">0.8</text>
<text x="1589.9" y="187.9" letter-spacing="-0.3">1.0</text>
</g>
<text class="b" x="837.4" y="148.3" font-size="50" text-anchor="middle">MSMEG3842 - MSMEG3842</text>
<text class="b" x="835.2" y="1405.7" font-size="62.5" text-anchor="middle" letter-spacing="-0.14">Generations</text>
<text class="b" transform="translate(108.9 728.6) rotate(-90)" font-size="62.5" text-anchor="middle" letter-spacing="-0.025">sgRNA log2FC (+ATc/-ATc)</text>
</svg></body></html>
